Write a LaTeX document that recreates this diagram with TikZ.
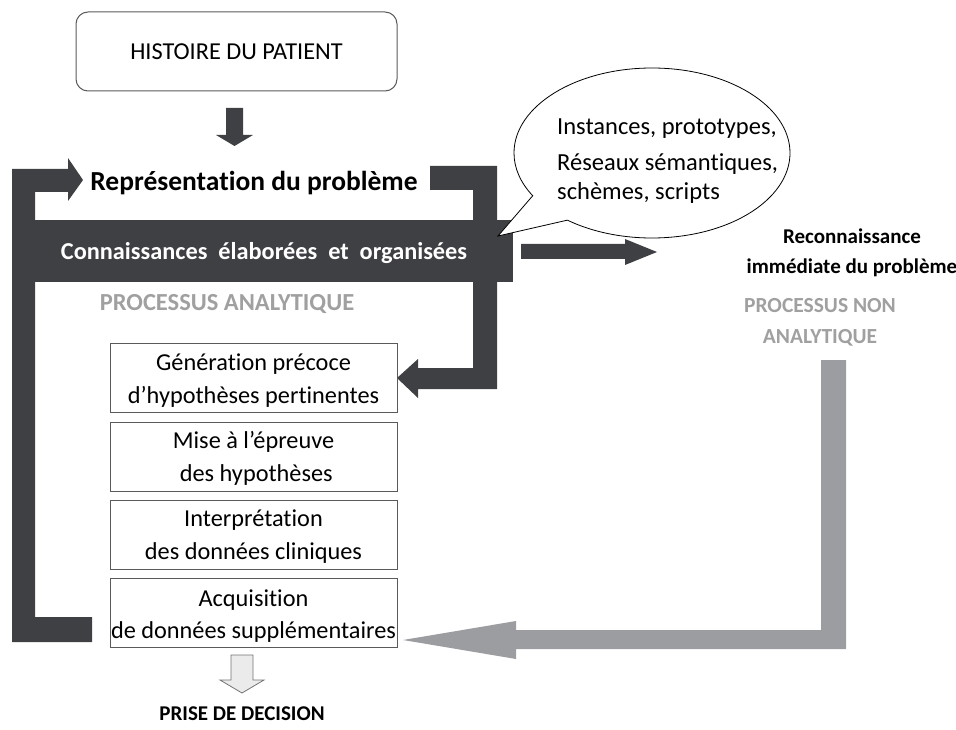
\documentclass[tikz,border=0pt]{standalone}
\usepackage{fontspec}
\setmainfont{Carlito}[Ligatures=NoCommon]
\usetikzlibrary{shapes.callouts}
\definecolor{darkbar}{HTML}{3F4043}
\definecolor{lightbar}{HTML}{9C9DA1}
\definecolor{graytext}{HTML}{A0A0A0}
\definecolor{boxline}{HTML}{5A5A5A}
\tikzset{
  stepbox/.style={draw=boxline, line width=1pt, minimum width=287pt, minimum height=69pt, inner sep=0pt},
  steptext/.style={inner sep=0pt, align=center, font=\fontsize{24.3}{32.5}\selectfont},
  boldlabel/.style={font=\fontsize{21}{30}\selectfont\bfseries, inner sep=0pt, align=center},
  graylabel/.style={font=\fontsize{21.5}{31}\selectfont\bfseries, text=graytext, inner sep=0pt, align=center},
  bubbletext/.style={font=\fontsize{24.5}{25}\selectfont, anchor=base west, inner sep=0pt}
}
\begin{document}
\begin{tikzpicture}[x=1pt,y=-1pt]
\useasboundingbox (0,0) rectangle (956,730);
% top box
\node[draw=boxline, line width=1pt, rounded corners=12pt, minimum width=321pt, minimum height=79pt,
  inner sep=0pt, font=\fontsize{24.3}{28}\selectfont] (hist) at (236.5,51.5) {HISTOIRE DU PATIENT};
% small dark arrow down
\fill[darkbar] (226,108) -- (243,108) -- (243,135) -- (253,135) -- (234.5,146) -- (216,135) -- (226,135) -- cycle;
% left bracket with arrow
\fill[darkbar] (12,169) -- (68,169) -- (68,158) -- (83,180) -- (68,201) -- (68,192) -- (35,192)
  -- (35,617) -- (92,617) -- (92,642) -- (12,642) -- cycle;
% right bracket with arrow
\fill[darkbar] (430,166) -- (497,166) -- (497,389) -- (418,389) -- (418,398) -- (397,378) -- (418,359)
  -- (418,368) -- (473,368) -- (473,190) -- (430,190) -- cycle;
% band
\fill[darkbar] (12,220) rectangle (513,282);
\node[font=\fontsize{24.3}{26}\selectfont\bfseries, text=white, inner sep=0pt] (conn) at (264,253)
  {Connaissances\ \ élaborées\ \ et\ \ organisées};
\node[font=\fontsize{27.5}{30}\selectfont\bfseries, inner sep=0pt] (repr) at (254,183) {Représentation du problème};
\node[font=\fontsize{24.5}{30}\selectfont\bfseries, text=graytext, inner sep=0pt] (pa) at (227,304) {PROCESSUS ANALYTIQUE};
% callout
\node[ellipse callout, draw=black, line width=0.8pt, fill=white, minimum width=276pt, minimum height=170pt,
  inner sep=0pt, callout absolute pointer={(498,236)}, callout pointer arc=22] (bubble) at (652,153) {};
\node[bubbletext] (b1) at (557,135) {Instances, prototypes,};
\node[bubbletext] (b2) at (557,171) {Réseaux sémantiques,};
\node[bubbletext] (b3) at (557,200) {schèmes, scripts};
% right dark arrow
\fill[darkbar] (521,244) -- (625,244) -- (625,239) -- (657,252) -- (625,265) -- (625,259) -- (521,259) -- cycle;
\node[boldlabel] (rec) at (852,253) {Reconnaissance\\immédiate du problème};
\node[graylabel] (pna) at (820,322) {PROCESSUS NON\\ANALYTIQUE};
% gray L arrow
\fill[lightbar] (821,360) -- (846,360) -- (846,649) -- (516,649) -- (516,659) -- (403,640) -- (516,621)
  -- (516,630) -- (821,630) -- cycle;
% step boxes
\node[stepbox] (s1) at (253.5,377.5) {};
\node[stepbox] (s2) at (253.5,456.5) {};
\node[stepbox] (s3) at (253.5,534.5) {};
\node[stepbox] (s4) at (253.5,613) {};
\node[steptext] (t1) at ([yshift=-3pt]s1.center) {Génération précoce\\d’hypothèses pertinentes};
\node[steptext] (t2) at ([yshift=-2pt]s2.center) {Mise à l’épreuve\\\ des hypothèses};
\node[steptext] (t3) at ([yshift=-2pt]s3.center) {Interprétation\\des données cliniques};
\node[steptext] (t4) at ([yshift=-3pt]s4.center) {Acquisition\\de données supplémentaires};
% hollow arrow
\filldraw[fill=black!8, draw=black!55, line width=0.8pt] (231,655) -- (253,655) -- (253,680) -- (264,680)
  -- (242,693) -- (220,680) -- (231,680) -- cycle;
\node[boldlabel] (pd) at (242,714) {PRISE DE DECISION};
\end{tikzpicture}
\end{document}
